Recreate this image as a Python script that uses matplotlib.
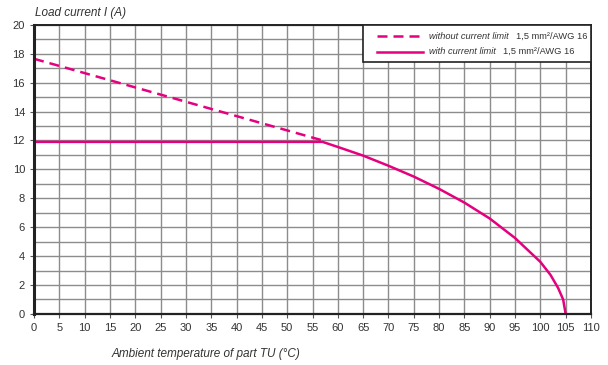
import matplotlib
matplotlib.use("Agg")
import matplotlib.pyplot as plt
from matplotlib.patches import Rectangle

plt.rcParams['font.family'] = ['Liberation Sans Narrow', 'Liberation Sans', 'DejaVu Sans']

# derating curve
tempLimited = [0, 57.0, 60, 65, 70, 75, 80, 85, 90, 95, 100, 102, 103.5, 104.5, 105]
currentLimited = [11.9, 11.9, 11.55, 10.95, 10.25, 9.5, 8.65, 7.7, 6.6, 5.25, 3.6, 2.7, 1.8, 1.0, 0]
tempUnlimited = [0, 57.0]
currentUnlimited = [17.65, 12.0]

xTicks = list(range(0, 115, 5))
yTicks = list(range(0, 22, 2))
legendLabels = ['without current limit', 'with current limit']
cableLabel = '1,5 mm²/AWG 16'
magenta = '#e5007d'

fig = plt.figure(figsize=(6.08, 3.65), dpi=100)
ax = fig.add_axes([0.056, 0.14, 0.916, 0.792])

ax.plot(tempUnlimited, currentUnlimited, color=magenta, lw=1.8, ls=(0, (4, 2.4)))
ax.plot(tempLimited, currentLimited, color=magenta, lw=1.8)

ax.set_xlim(0, 110)
ax.set_ylim(0, 20)
ax.set_xticks(xTicks)
ax.set_yticks(yTicks)
ax.set_yticks(range(0, 21), minor=True)
ax.grid(True, which='both', color='#8c8c8c', lw=1)
ax.set_axisbelow(True)
ax.tick_params(labelsize=8, length=3, color='#555555', labelcolor='#333333')
ax.tick_params(which='minor', length=0)

for side, w in [('left', 2.2), ('bottom', 1.6), ('top', 1.4), ('right', 1.4)]:
    ax.spines[side].set_linewidth(w)
    ax.spines[side].set_color('#222222')

fig.text(0.058, 0.965, 'Load current I (A)', style='italic', fontsize=8.5,
         color='#333333', va='center')
fig.text(0.339, 0.03, 'Ambient temperature of part TU (°C)', style='italic',
         fontsize=8.5, color='#333333', ha='center', va='center')

# legend box, drawn by hand so the cable size can sit upright after the italic label
ax.add_patch(Rectangle((0.591, 0.872), 0.409, 0.128, transform=ax.transAxes,
                       facecolor='white', edgecolor='#222222', lw=1.2, zorder=3))
rows = [(0.96, (0, (4, 2.4))), (0.907, '-')]
for (yPos, style), label in zip(rows, legendLabels):
    ax.plot([0.616, 0.698], [yPos, yPos], transform=ax.transAxes, color=magenta,
            lw=1.8, ls=style, zorder=4)
    t = ax.text(0.71, yPos, label, transform=ax.transAxes, style='italic',
                fontsize=6.7, va='center', color='#333333', zorder=5)
    ax.annotate(cableLabel, xy=(1, 0.5), xycoords=t, xytext=(5, 0),
                textcoords='offset points', fontsize=6.7, va='center',
                color='#333333', zorder=5)

fig.savefig('out.png', dpi=100)
